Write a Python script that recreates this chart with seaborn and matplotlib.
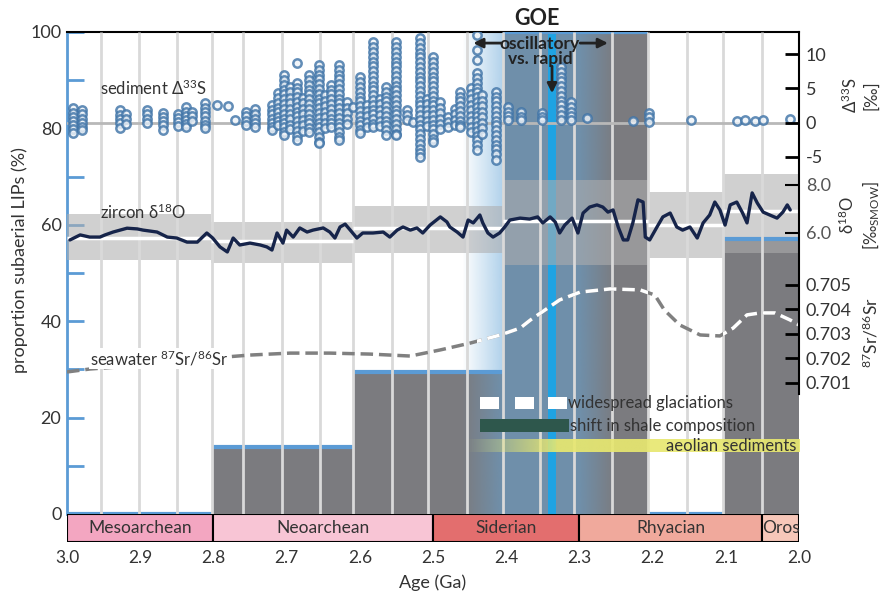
import numpy as np
import pandas as pd
import matplotlib
matplotlib.use("Agg")
import matplotlib.pyplot as plt
import seaborn as sns
from matplotlib.patches import Rectangle

# ---------------- data ----------------
# proportion of subaerial LIPs per age bin (%)
lip_start = [3.0, 2.8, 2.609, 2.405, 2.206, 2.104]
lip_end = [2.8, 2.609, 2.405, 2.206, 2.104, 2.0]
lip_pct = [0, 14, 29.5, 100, 0, 57]

# zircon d18O envelopes (permil)
zr_start = [3.0, 2.803, 2.609, 2.405, 2.206, 2.104]
zr_end = [2.803, 2.609, 2.405, 2.206, 2.104, 2.0]
zr_hi = [6.79, 6.46, 7.12, 8.21, 7.71, 8.46]
zr_lo = [4.88, 4.75, 5.17, 4.67, 4.96, 5.17]
zr_med = [5.79, 5.67, 6.20, 6.50, 6.34, 6.92]

# zircon d18O running curve
zr_age = [2.996, 2.982, 2.969, 2.955, 2.948, 2.937, 2.918, 2.904, 2.896, 2.877,
          2.863, 2.850, 2.836, 2.822, 2.809, 2.801, 2.791, 2.781, 2.773, 2.764,
          2.750, 2.736, 2.727, 2.720, 2.713, 2.705, 2.700, 2.691, 2.682, 2.672,
          2.664, 2.650, 2.641, 2.634, 2.627, 2.620, 2.613, 2.604, 2.596, 2.582,
          2.568, 2.559, 2.549, 2.541, 2.531, 2.522, 2.514, 2.504, 2.490, 2.481,
          2.477, 2.467, 2.459, 2.452, 2.445, 2.436, 2.432, 2.425, 2.418, 2.409,
          2.402, 2.395, 2.381, 2.368, 2.357, 2.350, 2.340, 2.333, 2.327, 2.320,
          2.310, 2.302, 2.295, 2.286, 2.276, 2.268, 2.261, 2.254, 2.247, 2.240,
          2.234, 2.227, 2.220, 2.213, 2.210, 2.204, 2.194, 2.186, 2.176, 2.167,
          2.159, 2.149, 2.139, 2.131, 2.122, 2.115, 2.108, 2.101, 2.094, 2.085,
          2.077, 2.071, 2.064, 2.057, 2.049, 2.040, 2.030, 2.022, 2.016, 2.012]
zr_d18 = [5.71, 5.92, 5.83, 5.83, 5.92, 6.04, 6.20, 6.17, 6.12, 6.04,
          5.83, 5.79, 5.62, 5.62, 6.00, 5.79, 5.42, 5.21, 5.79, 5.50,
          5.58, 5.50, 5.42, 5.29, 6.00, 5.58, 6.12, 5.83, 6.21, 6.04,
          6.12, 6.21, 6.04, 5.79, 6.25, 6.37, 6.12, 5.79, 6.00, 6.00,
          6.04, 5.83, 6.12, 6.25, 6.12, 6.21, 6.00, 6.33, 6.67, 6.46,
          6.25, 6.04, 5.83, 6.54, 6.42, 6.75, 6.42, 6.00, 5.83, 6.00,
          6.25, 6.54, 6.62, 6.58, 6.67, 6.42, 6.67, 6.46, 6.00, 6.33,
          6.62, 6.00, 6.83, 7.08, 7.17, 7.08, 6.87, 6.96, 6.25, 5.71,
          5.71, 6.42, 7.38, 7.29, 5.83, 5.71, 6.25, 6.67, 6.83, 6.25,
          6.12, 6.25, 5.79, 6.42, 6.75, 7.29, 6.96, 6.33, 7.17, 7.29,
          6.83, 6.42, 7.67, 7.25, 6.87, 6.75, 6.62, 6.87, 7.17, 6.96]

# seawater 87Sr/86Sr
sr_age = [3.0, 2.969, 2.914, 2.859, 2.801, 2.750, 2.695, 2.641, 2.586, 2.531,
          2.490, 2.449, 2.408, 2.381, 2.367, 2.347, 2.327, 2.299, 2.258, 2.217,
          2.197, 2.184, 2.163, 2.135, 2.108, 2.090, 2.071, 2.053, 2.033, 2.012, 2.0]
sr_val = [0.70145, 0.70157, 0.70169, 0.70182, 0.70202, 0.70214, 0.70222, 0.70222,
          0.70218, 0.70210, 0.70235, 0.70263, 0.70296, 0.70324, 0.70357, 0.70398,
          0.70439, 0.70471, 0.70484, 0.70480, 0.70459, 0.70398, 0.70337, 0.70296,
          0.70292, 0.70324, 0.70378, 0.70386, 0.70386, 0.70357, 0.70337]

# sediment D33S: sample ages and the values measured at each age
s33_ages = [2.992, 2.980, 2.928, 2.919, 2.891, 2.869, 2.848, 2.838, 2.829, 2.811,
            2.795, 2.780, 2.770, 2.755, 2.743, 2.720, 2.712, 2.703, 2.695, 2.686,
            2.678, 2.670, 2.656, 2.648, 2.640, 2.628, 2.617, 2.609, 2.600, 2.590,
            2.582, 2.572, 2.564, 2.550, 2.536, 2.527, 2.518, 2.508, 2.500, 2.490,
            2.480, 2.470, 2.463, 2.448, 2.440, 2.433, 2.414, 2.398, 2.380, 2.351,
            2.325, 2.312, 2.290, 2.227, 2.205, 2.148, 2.085, 2.074, 2.060, 2.049,
            2.012]
s33_vals = [
    [2.1, 1.4, 0.8, 0.2, -0.4, -1.0, -1.5],
    [1.8, 1.2, 0.6, 0.0, -0.6, -1.1],
    [1.8, 1.1, 0.5, -0.1, -0.8],
    [1.2, 0.5, -0.2],
    [1.8, 1.2, 0.6, 0.0],
    [1.4, 0.8, 0.2, -0.4, -1.1],
    [1.3, 0.7, 0.1, -0.5],
    [2.3, 1.6, 1.0, 0.4, -0.2, -0.65],
    [1.6, 0.9, 0.3],
    [2.8, 2.1, 1.5, 0.9, 0.3, -0.3, -0.8],
    [2.5],
    [2.4],
    [0.35],
    [1.6, 0.9, 0.3, -0.3],
    [2.0, 1.3, 0.6, 0.0, -0.6],
    [2.6, 1.9, 1.2, 0.5, -0.1, -0.7, -1.1],
    [4.3, 3.6, 2.9, 2.2, 1.5, 0.8, 0.2, -0.4],
    [6.9, 6.2, 5.5, 4.8, 4.1, 3.4, 2.7, 2.0, 1.3, 0.6, 0.0, -0.7, -1.4, -1.8],
    [5.2, 4.4, 3.6, 2.8, 2.0, 1.2, 0.5, -0.3, -1.0],
    [8.7, 5.8, 5.1, 4.4, 3.7, 3.0, 2.3, 1.6, 0.9, 0.2, -0.5, -1.2, -1.9, -2.5],
    [3.6, 2.8, 2.0, 1.2, 0.4, -0.4, -1.2],
    [6.9, 6.2, 5.5, 4.8, 4.1, 3.4, 2.7, 2.0, 1.3, 0.6, -0.1, -0.8, -1.4],
    [8.4, 7.7, 7.0, 6.3, 5.6, 4.9, 4.2, 3.5, 2.8, 2.1, 1.4, 0.7, 0.0, -0.7, -1.4, -2.1, -2.8, -3.0],
    [4.0, 3.2, 2.4, 1.6, 0.8, 0.0, -0.8],
    [5.5, 4.8, 4.1, 3.4, 2.7, 2.0, 1.3, 0.6, -0.1, -0.65],
    [8.4, 7.7, 7.0, 6.3, 5.6, 4.9, 4.2, 3.5, 2.8, 2.1, 1.4, 0.7, 0.0, -0.7, -1.4, -2.1, -2.5],
    [3.0, 2.2, 1.4, 0.6, -0.2],
    [2.3],
    [6.6, 5.9, 5.2, 4.5, 3.8, 3.1, 2.4, 1.7, 1.0, 0.3, -0.4, -1.1, -1.5],
    [2.5, 1.7, 0.9, 0.1, -0.6],
    [11.75, 11.0, 10.3, 9.6, 8.9, 8.2, 7.5, 6.8, 6.1, 5.4, 4.7, 4.0, 3.3, 2.6, 1.9, 1.2, 0.5, -0.2, -0.65],
    [3.5, 2.7, 1.9, 1.1, 0.3, -0.5],
    [5.2, 4.5, 3.8, 3.1, 2.4, 1.7, 1.0, 0.3, -0.4, -1.1, -1.8],
    [11.75, 11.0, 10.3, 9.6, 8.9, 8.2, 7.5, 6.8, 6.1, 5.4, 4.7, 4.0, 3.3, 2.6, 1.9, 1.2, 0.5, -0.2, -0.9, -1.6, -1.8],
    [1.8, 1.1, 0.35],
    [0.1],
    [12.3, 11.6, 10.9, 10.2, 9.5, 8.8, 8.1, 7.4, 6.7, 6.0, 5.3, 4.6, 3.9, 3.2, 2.5, 1.8, 1.1, 0.4,
     -0.3, -1.0, -1.7, -2.4, -3.1, -3.8, -4.5, -5.0],
    [3.5, 2.7, 1.9, 1.1, 0.3, -0.5],
    [9.5, 8.8, 8.1, 7.4, 6.7, 6.0, 5.3, 4.6, 3.9, 3.2, 2.5, 1.8, 1.1, 0.4, -0.3, -1.0, -1.7, -2.4, -2.85],
    [3.0, 2.2, 1.4, 0.6, -0.2, -1.0],
    [0.8, 0.1, -0.65],
    [2.0, 1.2, 0.4, -0.4],
    [4.5, 3.8, 3.1, 2.4, 1.7, 1.0, 0.3, -0.4, -0.65],
    [5.0, 4.2, 3.4, 2.6, 1.8, 1.0, 0.2, -0.6, -1.4],
    [12.8, 10.6, 9.2, 7.2, 6.5, 5.8, 5.1, 4.4, 3.7, 3.0, 2.3, 1.6, 0.9, 0.2, -0.5, -1.2, -1.9, -2.6, -3.3, -4.0],
    [4.0, 3.2, 2.4, 1.6, 0.8, 0.0, -0.8, -1.6],
    [4.5, 3.8, 3.1, 2.4, 1.7, 1.0, 0.3, -0.4, -1.1, -1.8, -2.5, -3.2, -3.9, -4.6, -5.5],
    [2.3, 1.6, 0.9, 0.35],
    [1.5, 0.8, 0.35],
    [1.4, 0.8, 0.35],
    [8.1, 7.4, 6.7, 6.0, 5.3, 4.6, 3.9, 3.2, 2.5, 1.8, 1.1, 0.35],
    [3.0, 2.3, 1.6, 0.9, 0.35],
    [0.65],
    [0.2],
    [1.4, 0.8, 0.1],
    [0.35],
    [0.3],
    [0.35],
    [0.3],
    [0.35],
    [0.5],
]

# light vertical separators
grid_ages = [2.954, 2.902, 2.850, 2.802, 2.760, 2.706, 2.654, 2.609, 2.556, 2.507,
             2.454, 2.405, 2.354, 2.307, 2.255, 2.206, 2.153, 2.104, 2.051]

# geological periods
era_names = ["Mesoarchean", "Neoarchean", "Siderian", "Rhyacian", "Oros"]
era_start = [3.0, 2.8, 2.5, 2.3, 2.05]
era_end = [2.8, 2.5, 2.3, 2.05, 2.0]
era_colors = ["#f3a6c1", "#f8c5d5", "#e36e6e", "#f0a99c", "#f7c7b9"]

# event markers
glac_start = [2.436, 2.388, 2.343]
glac_end = [2.410, 2.362, 2.317]
shale_start, shale_end = 2.436, 2.314
aeolian_start, aeolian_end = 2.455, 2.0
goe_start, goe_end = 2.46, 2.25
rapid_start, rapid_end = 2.343, 2.332


# mapping of the secondary quantities onto the LIP % scale
def s33_pct(v):
    return 81.2 + 1.423 * np.asarray(v, dtype=float)


def d18_pct(v):
    return 58.3 + 4.98 * (np.asarray(v, dtype=float) - 6.0)


def sr_pct(v):
    return 27.18 + 5083.0 * (np.asarray(v, dtype=float) - 0.701)


# ---------------- style ----------------
sns.set_theme(style="white")
plt.rcParams["font.family"] = ["Lato", "DejaVu Sans"]
plt.rcParams["mathtext.fontset"] = "custom"
plt.rcParams["mathtext.rm"] = "Lato"
plt.rcParams["mathtext.default"] = "regular"
TXT = "#333333"

fig = plt.figure(figsize=(8.83, 5.94), dpi=100)
ax = fig.add_axes([67 / 883, 1 - 514 / 594, 732 / 883, 482 / 594])
ax_era = fig.add_axes([67 / 883, 1 - 542 / 594, 732 / 883, 28 / 594])

# LIP bars
lip = pd.DataFrame({"start": lip_start, "end": lip_end, "pct": lip_pct})
lip["mid"] = (lip["start"] + lip["end"]) / 2
lip["w"] = lip["start"] - lip["end"]
ax.bar(lip["mid"], lip["pct"], width=lip["w"], color="#7b7b7f", linewidth=0, zorder=1)

# GOE shading
gx = np.linspace(goe_start, goe_end, 300)
g_alpha = np.interp(gx, [goe_end, 2.30, 2.405, goe_start], [0.0, 0.5, 0.5, 0.0])
goe_img = np.zeros((1, gx.size, 4))
goe_img[..., 0], goe_img[..., 1], goe_img[..., 2] = 100 / 255, 165 / 255, 215 / 255
goe_img[..., 3] = g_alpha
ax.imshow(goe_img, extent=(goe_start, goe_end, 0, 100), aspect="auto",
          interpolation="bilinear", zorder=2)
ax.axvspan(rapid_start, rapid_end, color="#1fa3e3", lw=0, zorder=2.5)

# zircon envelopes
for s, e, lo, hi in zip(zr_start, zr_end, zr_lo, zr_hi):
    ax.fill_between([s, e], d18_pct(lo), d18_pct(hi), color="#aeaeaf", alpha=0.58,
                    lw=0, zorder=3)

# bar caps
ax.hlines(lip["pct"], lip["start"], lip["end"], color="#5b9bd5", lw=3, zorder=3.6)

# separators
ax.vlines(grid_ages, 0, 100, color="#d9d9d9", lw=2.0, zorder=4)

# aeolian band
ax_img = np.linspace(aeolian_start, aeolian_end, 300)
a_alpha = np.interp(ax_img, [aeolian_end, 2.33, aeolian_start], [0.92, 0.92, 0.0])
aeo = np.zeros((1, ax_img.size, 4))
aeo[..., 0], aeo[..., 1], aeo[..., 2] = 232 / 255, 232 / 255, 112 / 255
aeo[..., 3] = a_alpha
ax.imshow(aeo, extent=(aeolian_start, aeolian_end, 12.9, 15.4), aspect="auto",
          interpolation="bilinear", zorder=4.5)

# zircon medians
ax.hlines(d18_pct(zr_med), zr_start, zr_end, color="white", lw=2.5, zorder=5)

# D33S zero line and data
ax.axhline(s33_pct(0), color="#b8b8b8", lw=2, zorder=5.5)
s33 = pd.DataFrame({
    "age": np.repeat(s33_ages, [len(v) for v in s33_vals]),
    "d33": np.concatenate([np.asarray(v, dtype=float) for v in s33_vals]),
})
s33["pct"] = s33_pct(s33["d33"])
sns.scatterplot(data=s33, x="age", y="pct", ax=ax, marker="o", s=36,
                facecolor="#eef3f8", edgecolor="#4175a8", linewidth=1.8, alpha=0.82,
                zorder=6, legend=False)

# zircon curve
sns.lineplot(x=zr_age, y=d18_pct(zr_d18), ax=ax, color="#16244a", lw=2.4,
             estimator=None, sort=False, zorder=7)

# seawater Sr curve (white where it crosses the dark bars)
sr_y = sr_pct(sr_val)
ax.plot(sr_age, sr_y, color="#808080", lw=2.5, dashes=(3.6, 1.7), zorder=7)
for s, e in [(2.44, 2.206), (2.104, 2.0)]:
    ln, = ax.plot(sr_age, sr_y, color="white", lw=2.5, dashes=(3.6, 1.7), zorder=7.1)
    ln.set_clip_path(Rectangle((e, 0), s - e, 100, transform=ax.transData))

# glaciation and shale boxes
ax.bar([(s + e) / 2 for s, e in zip(glac_start, glac_end)], 2.5,
       width=[s - e for s, e in zip(glac_start, glac_end)], bottom=21.8,
       color="white", lw=0, zorder=8)
ax.bar((shale_start + shale_end) / 2, 2.7, width=shale_start - shale_end, bottom=17.0,
       color="#2e574c", lw=0, zorder=8)

# labels inside the plot
ax.text(2.316, 23.05, "widespread glaciations", ha="left", va="center",
        fontsize=12, color=TXT, zorder=9)
ax.text(2.313, 18.35, "shift in shale composition", ha="left", va="center",
        fontsize=12, color=TXT, zorder=9)
ax.text(2.003, 14.1, "aeolian sediments", ha="right", va="center",
        fontsize=12, color=TXT, zorder=9)
ax.text(2.955, 88.4, "sediment Δ$^{33}$S", ha="left", va="center", fontsize=12,
        color=TXT, zorder=9)
ax.text(2.955, 62.6, "zircon δ$^{18}$O", ha="left", va="center", fontsize=12,
        color=TXT, zorder=9)
ax.text(2.969, 32.3, "seawater $^{87}$Sr/$^{86}$Sr", ha="left", va="center",
        fontsize=12, color=TXT, zorder=9,
        bbox=dict(facecolor="white", edgecolor="none", pad=0.5))

ax.text(2.358, 102.9, "GOE", ha="center", va="center", fontsize=15.5,
        fontweight="bold", color="#222222", clip_on=False)
ax.text(2.354, 96.0, "oscillatory\nvs. rapid", ha="center", va="center",
        fontsize=12.5, fontweight="bold", color="#222222", linespacing=0.95, zorder=9)
arrow = dict(arrowstyle="-|>", lw=2, color="#222222", mutation_scale=14,
             shrinkA=0, shrinkB=0)
ax.annotate("", xy=(2.445, 97.7), xytext=(2.407, 97.7), arrowprops=arrow, zorder=9)
ax.annotate("", xy=(2.261, 97.7), xytext=(2.299, 97.7), arrowprops=arrow, zorder=9)
ax.annotate("", xy=(2.3374, 87.3), xytext=(2.3374, 92.9), arrowprops=arrow, zorder=9)

# main axes styling
ax.set_xlim(3.0, 2.0)
ax.set_ylim(0, 100)
ax.set_xticks([])
ax.set_xlabel("")
ax.set_ylabel("")
ax.set_yticks(np.arange(0, 101, 20))
ax.set_yticks(np.arange(10, 100, 20), minor=True)
ax.tick_params(axis="y", which="both", direction="in", length=12.5, width=2,
               color="#5b9bd5", labelsize=13, labelcolor=TXT, pad=4, left=True)
for side in ["right", "bottom"]:
    ax.spines[side].set_visible(False)
ax.spines["left"].set_color("#5b9bd5")
ax.spines["left"].set_linewidth(2)
ax.spines["top"].set_color("black")
ax.spines["top"].set_linewidth(1.5)

# right-hand scales
ax2 = ax.twinx()
ax2.set_ylim(0, 100)
r_vals = [10, 5, 0, -5]
d_vals = [8.0, 6.0]
sr_ticks = [0.705, 0.704, 0.703, 0.702, 0.701]
r_pos = list(s33_pct(r_vals)) + list(d18_pct(d_vals)) + list(sr_pct(sr_ticks))
r_lab = [str(v) for v in r_vals] + [f"{v:.1f}" for v in d_vals] + [f"{v:.3f}" for v in sr_ticks]
ax2.set_yticks(r_pos)
ax2.set_yticklabels(r_lab)
ax2.tick_params(axis="y", direction="in", length=10, width=2, color="black",
                labelsize=13, labelcolor=TXT, pad=5, right=True)
for i, t in enumerate(ax2.yaxis.get_major_ticks()):
    if 4 <= i < 6:
        t.tick2line.set_color("#9a9a9a")
        t.tick2line.set_markeredgewidth(1.5)
        t.label2.set_color("#555555")
for side in ["left", "top", "bottom"]:
    ax2.spines[side].set_visible(False)
ax2.spines["right"].set_color("black")
ax2.spines["right"].set_linewidth(1.5)
ax2.spines["right"].set_bounds(25, 100)

# period bar
era = pd.DataFrame({"name": era_names, "start": era_start, "end": era_end})
era["mid"] = (era["start"] + era["end"]) / 2
ax_era.bar(era["mid"], 1, width=era["start"] - era["end"], color=era_colors,
           edgecolor="black", linewidth=1.5)
for _, r in era.iterrows():
    ax_era.text(r["mid"], 0.5, r["name"], ha="center", va="center", fontsize=12.5,
                color=TXT)
ax_era.set_xlim(3.0, 2.0)
ax_era.set_ylim(0, 1)
ax_era.set_yticks([])
ax_era.set_xticks(np.round(np.arange(3.0, 1.95, -0.1), 1))
ax_era.set_xticklabels([f"{v:.1f}" for v in np.arange(3.0, 1.95, -0.1)])
ax_era.tick_params(axis="x", length=0, labelsize=12.5, labelcolor=TXT, pad=6)
for side in ax_era.spines:
    ax_era.spines[side].set_visible(False)
ax_era.set_xlabel("Age (Ga)", fontsize=13, color=TXT, labelpad=6)

# outer labels
fig.text(20 / 883, 1 - 260 / 594, "proportion subaerial LIPs (%)", rotation=90,
         ha="center", va="center", fontsize=13, color=TXT)
fig.text(860 / 883, 1 - 95 / 594, "Δ$^{33}$S\n[‰]", rotation=90, ha="center",
         va="center", fontsize=12, color=TXT, multialignment="center")
fig.text(860 / 883, 1 - 215 / 594, "δ$^{18}$O\n[‰$_{SMOW}$]", rotation=90,
         ha="center", va="center", fontsize=12, color=TXT, multialignment="center")
fig.text(871 / 883, 1 - 333 / 594, "$^{87}$Sr/$^{86}$Sr", rotation=90, ha="center",
         va="center", fontsize=12.5, color=TXT)

fig.savefig("out.png", dpi=100, facecolor="white")
